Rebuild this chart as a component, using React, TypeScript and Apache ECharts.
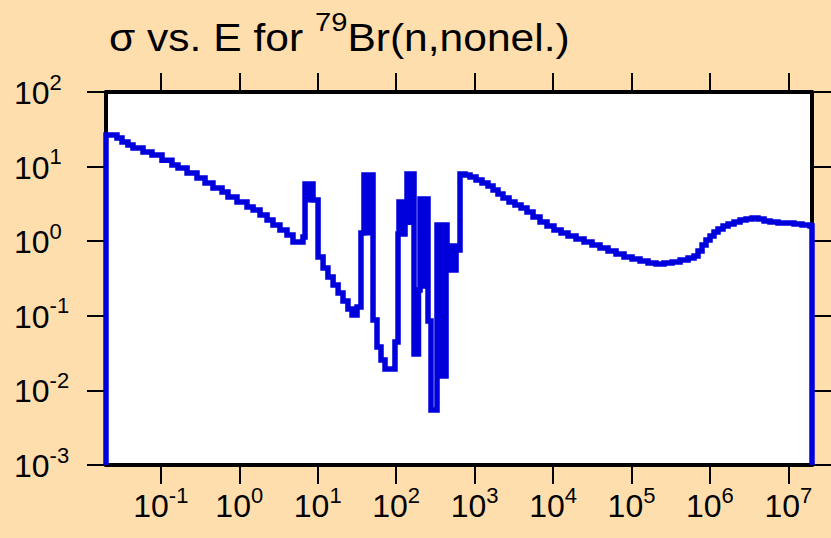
import React, { useEffect, useRef } from "react";
import * as echarts from "echarts";

// Neutron energy (eV) at the start of each histogram step
const energy: number[] = [
  0.02, 0.02, 0.0276, 0.032, 0.0381, 0.0442, 0.0593, 0.0771, 0.1035, 0.1387, 0.1656,
  0.216, 0.289, 0.366, 0.462, 0.603, 0.718, 0.935, 1.255, 1.5, 1.84, 2.26, 2.69, 3.3,
  4.06, 4.84, 6.49, 6.89, 7.2, 7.52, 7.86, 8.2, 8.71, 10.1, 11.7, 13.5, 15.7, 18.2, 21.0,
  24.3, 27.4, 31.7, 35.6, 38.9, 41.3, 43.1, 45.1, 47.1, 50.7, 57.0, 64.1, 72.1, 96.6,
  105.6, 108.7, 113.6, 118.8, 124.1, 129.7, 137.5, 143.7, 150.2, 168.9, 176.5, 184.4,
  192.7, 201.4, 213.5, 226.5, 254.7, 278.1, 331.8, 346.7, 362.4, 378.7, 395.8, 413.6,
  432.2, 445.0, 465.1, 486.0, 507.8, 530.8, 554.6, 579.6, 614.4, 651.6, 755, 874, 1042,
  1242, 1482, 1718, 1987, 2301, 2747, 3273, 3908, 4656, 5559, 6823, 8375, 10280, 12650,
  15520, 19630, 24830, 31400, 39700, 50200, 63500, 80300, 101600, 128500, 162500, 205600,
  260000, 328900, 415900, 526000, 627000, 705000, 793000, 891000, 1002000, 1127000,
  1268000, 1469000, 1702000, 2028000, 2421000, 2884000, 3443000, 4102000, 4898000,
  5834000, 7379000, 9333000, 11800000, 14930000, 18880000, 20000000,
];

// Cross section (barns) on each step
const sigma: number[] = [
  0.001, 26.5, 24.2, 21.4, 19.5, 17.7, 15.7, 14.3, 12.2, 10.5, 9.57,
  8.2, 7.03, 6.03, 5.16, 4.57, 3.91, 3.35, 2.87, 2.62, 2.24, 1.92, 1.65, 1.41,
  1.21, 0.975, 1.14, 5.85, 3.6, 5.85, 3.6, 5.85, 3.57, 0.614, 0.438, 0.331, 0.259, 0.202, 0.158,
  0.123, 0.1025, 0.131, 1.29, 7.7, 1.3, 7.7, 1.3, 7.7, 0.088, 0.0382, 0.0256, 0.0194, 0.0446,
  1.25, 3.35, 1.25, 3.35, 1.25, 3.35, 7.96, 1.8, 7.96, 0.0308, 0.222, 0.0308,
  0.222, 3.68, 0.25, 3.68, 0.085, 0.00546, 1.65, 0.0156, 1.65, 0.0156, 1.65, 0.0156,
  1.65, 0.863, 0.411, 0.863, 0.411, 0.863, 0.411, 0.863, 0.762, 7.96, 7.7, 7.26, 6.61,
  6.03, 5.5, 4.86, 4.29, 3.8, 3.35, 3.05, 2.79, 2.46, 2.11, 1.81, 1.6, 1.41, 1.29,
  1.17, 1.07, 0.975, 0.889, 0.811, 0.74, 0.674, 0.614, 0.577, 0.543, 0.51, 0.495,
  0.51, 0.526, 0.56, 0.596, 0.634, 0.74, 0.889, 1.04, 1.17, 1.33,
  1.46, 1.6, 1.7, 1.81, 1.92, 1.99, 2.05, 1.99, 1.87,
  1.81, 1.75, 1.75, 1.7, 1.65, 1.6, 0.001,
];

const xTicks: number[] = [0.1, 1, 10, 100, 1000, 1e4, 1e5, 1e6, 1e7];
const yTicks: number[] = [1e-3, 1e-2, 1e-1, 1, 10, 100];

const TITLE_MAIN = "σ vs. E for ";
const TITLE_SUP = "79";
const TITLE_REST = "Br(n,nonel.)";

const FONT = "'Liberation Sans', Arial, Helvetica, sans-serif";
const BG = "#FFDEAD";

const expLabel = (v: number) => {
  const e = Math.round(Math.log10(v));
  return `{b|10}{s|${e}}`;
};

const labelRich = {
  b: { fontSize: 32, fontFamily: FONT, color: "#000", verticalAlign: "bottom", lineHeight: 34 },
  s: { fontSize: 22, fontFamily: FONT, color: "#000", verticalAlign: "bottom", lineHeight: 22, padding: [0, 0, 16, 0] },
};

export default function App() {
  const ref = useRef<HTMLDivElement>(null);
  useEffect(() => {
    document.body.style.margin = "0";
    document.body.style.background = BG;
    if (!ref.current) return;
    const chart = echarts.init(ref.current, null, { renderer: "svg" });
    const data = energy.map((e, i) => [e, sigma[i]]);
    const axisLine = { show: true, onZero: false, lineStyle: { color: "#000", width: 4 } };
    const tick = (vals: number[]) => ({
      show: true,
      inside: false,
      length: 19,
      customValues: vals,
      lineStyle: { color: "#000", width: 2 },
    });
    chart.setOption({
      animation: false,
      backgroundColor: BG,
      graphic: [
        {
          type: "text",
          x: 109,
          y: 15,
          scaleX: 1.12,
          style: {
            text: `{a|${TITLE_MAIN}}{s|${TITLE_SUP}}{a|${TITLE_REST}}`,
            rich: {
              a: { fontSize: 38, fontFamily: FONT, fill: "#000", color: "#000", verticalAlign: "bottom", lineHeight: 42 },
              s: { fontSize: 26, fontFamily: FONT, fill: "#000", color: "#000", verticalAlign: "bottom", lineHeight: 26, padding: [0, 0, 22, 0] },
            },
          },
        },
      ],
      grid: {
        left: 106,
        right: 19,
        top: 92,
        bottom: 73,
        show: true,
        backgroundColor: "#fff",
        borderWidth: 0,
      },
      xAxis: [
        {
          type: "log",
          logBase: 10,
          min: 0.02,
          max: 2e7,
          position: "bottom",
          axisLine,
          axisTick: tick(xTicks),
          axisLabel: {
            show: true,
            customValues: xTicks,
            margin: 23,
            formatter: expLabel,
            rich: labelRich,
          },
          splitLine: { show: false },
          minorTick: { show: false },
        },
        {
          type: "log",
          logBase: 10,
          min: 0.02,
          max: 2e7,
          position: "top",
          axisLine,
          axisTick: tick(xTicks),
          axisLabel: { show: false },
          splitLine: { show: false },
        },
      ],
      yAxis: [
        {
          type: "log",
          logBase: 10,
          min: 1e-3,
          max: 100,
          position: "left",
          axisLine,
          axisTick: tick(yTicks),
          axisLabel: {
            show: true,
            customValues: yTicks,
            margin: 92,
            align: "left",
            formatter: expLabel,
            rich: labelRich,
          },
          splitLine: { show: false },
        },
        {
          type: "log",
          logBase: 10,
          min: 1e-3,
          max: 100,
          position: "right",
          axisLine,
          axisTick: tick(yTicks),
          axisLabel: { show: false },
          splitLine: { show: false },
        },
      ],
      series: [
        {
          type: "line",
          xAxisIndex: 0,
          yAxisIndex: 0,
          data,
          step: "end",
          showSymbol: false,
          symbol: "none",
          clip: false,
          z: 5,
          lineStyle: { color: "#0000DD", width: 5.5, join: "miter" },
        },
      ],
    });
    return () => chart.dispose();
  }, []);
  return (
    <div
      ref={ref}
      style={{ position: "absolute", left: 0, top: 0, width: 831, height: 538 }}
    />
  );
}
